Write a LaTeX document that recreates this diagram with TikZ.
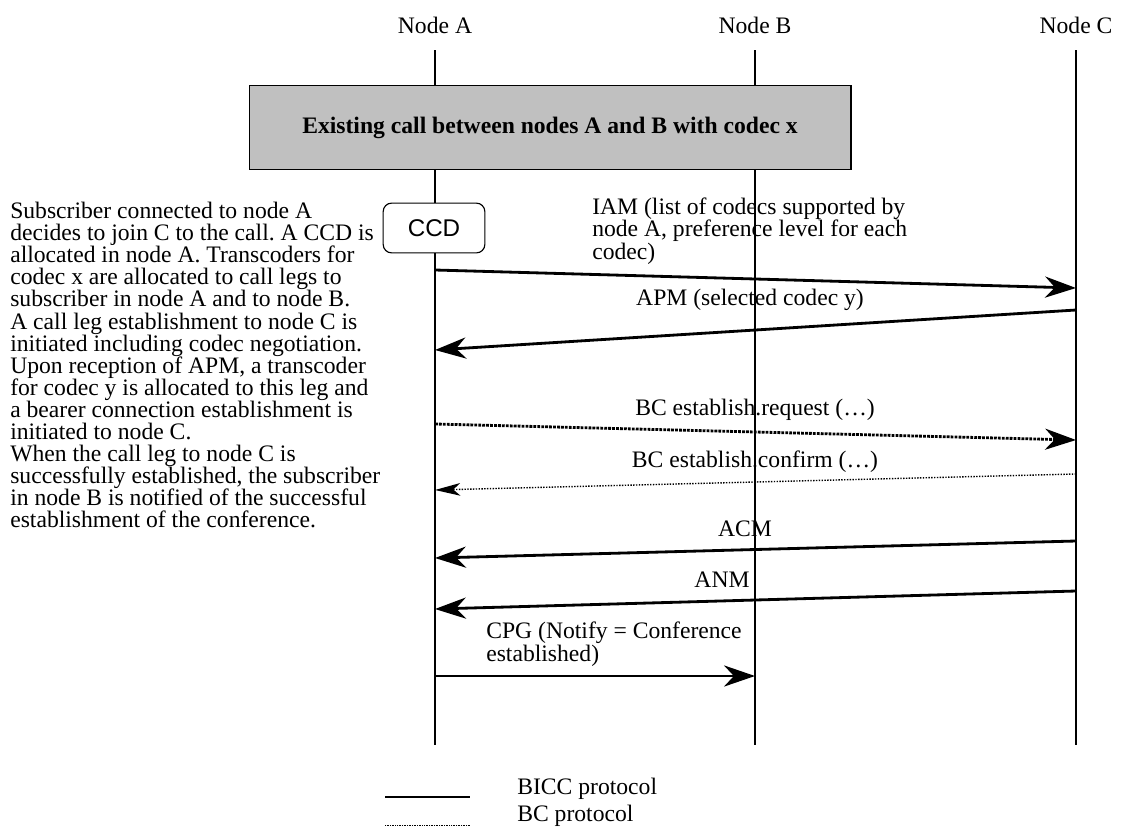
\documentclass[tikz,border=0pt]{standalone}
\usepackage{fontspec}
\setmainfont{Liberation Serif}
\newfontfamily\arialfont{Liberation Sans}
\usetikzlibrary{arrows.meta}
\definecolor{boxgrey}{HTML}{C0C0C0}
\frenchspacing
\tikzset{
  txt/.style={font=\fontsize{16.8}{15.7}\selectfont, inner sep=0pt},
  lifeline/.style={line width=0.8pt},
  bicc/.style={line width=2pt, -{Stealth[length=22pt, width=15pt, inset=7pt]}},
  bcreq/.style={line width=2pt, dash pattern=on 2pt off 0.8pt, -{Stealth[length=22pt, width=15pt, inset=7pt]}},
  bcconf/.style={line width=1pt, dash pattern=on 1pt off 1pt, -{Stealth[length=18pt, width=9pt, inset=5pt]}}
}
\begin{document}
\begin{tikzpicture}[x=0.025cm, y=-0.025cm]
        \useasboundingbox (0,0) rectangle (1123,829);
        % node headings and lifelines
        \node[txt] (nA) at (435,25)  {Node A};
        \node[txt] (nB) at (755,25)  {Node B};
        \node[txt] (nC) at (1076,25) {Node C};
        \coordinate (Aend) at (435,745);
        \coordinate (Bend) at (755,745);
        \coordinate (Cend) at (1076,745);
        \draw[lifeline] (435,50)  -- (Aend);
        \draw[lifeline] (755,50)  -- (Bend);
        \draw[lifeline] (1076,50) -- (Cend);

        % existing call box
        \node[txt, draw, line width=0.8pt, fill=boxgrey, minimum width=428pt, minimum height=60.3pt, font=\fontsize{16.8}{15.7}\selectfont\bfseries] (existing) at (550,127.5) {Existing call between nodes A and B with codec x};
        \node[draw, line width=0.8pt, fill=white, rounded corners=6pt, minimum width=72.3pt, minimum height=35.4pt, inner sep=0pt, font=\arialfont\fontsize{17.2}{15.7}\selectfont] (ccd) at (434,228) {CCD};

        % description on the left
        \node[txt, anchor=north west, align=left] (desc) at (10,202) {Subscriber connected to node A\\
decides to join C to the call. A CCD is\\
allocated in node A. Transcoders for\\
codec x are allocated to call legs to\\
subscriber in node A and to node B.\\
A call leg establishment to node C is\\
initiated including codec negotiation.\\
Upon reception of APM, a transcoder\\
for codec y is allocated to this leg and\\
a bearer connection establishment is\\
initiated to node C.\\
When the call leg to node C is\\
successfully established, the subscriber\\
in node B is notified of the successful\\
establishment of the conference.};

        % message end points
        \coordinate (iamS) at (435,270);  \coordinate (iamE) at (1076,288);
        \coordinate (apmS) at (1076,310); \coordinate (apmE) at (435,350);
        \coordinate (reqS) at (435,424);  \coordinate (reqE) at (1076,440);
        \coordinate (cnfS) at (1076,474); \coordinate (cnfE) at (435,490);
        \coordinate (acmS) at (1076,541); \coordinate (acmE) at (435,558);
        \coordinate (anmS) at (1076,591); \coordinate (anmE) at (435,609);
        \coordinate (cpgS) at (435,676);  \coordinate (cpgE) at (755,676);

        % messages
        \draw[bicc]   (iamS) -- (iamE);
        \draw[bicc]   (apmS) -- (apmE);
        \draw[bcreq]  (reqS) -- (reqE);
        \draw[bcconf] (cnfS) -- (cnfE);
        \draw[bicc]   (acmS) -- (acmE);
        \draw[bicc]   (anmS) -- (anmE);
        \draw[bicc]   (cpgS) -- (cpgE);

        % message labels
        \node[txt, anchor=north west, align=left] (iamL) at (592,198) {IAM (list of codecs supported by\\node A, preference level for each\\codec)};
        \node[txt] (apmL) at (750,300) {APM (selected codec y)};
        \node[txt] (reqL) at (755,410) {BC establish.request (\dots)};
        \node[txt] (cnfL) at (755,462) {BC establish.confirm (\dots)};
        \node[txt] (acmL) at (745,529) {ACM};
        \node[txt] (anmL) at (722,580) {ANM};
        \node[txt, anchor=north west, align=left] (cpgL) at (486,622) {CPG (Notify = Conference\\established)};

        % legend
        \coordinate (lg1a) at (385,797); \coordinate (lg1b) at (470,797);
        \coordinate (lg2a) at (385,825); \coordinate (lg2b) at (470,825);
        \draw[line width=2pt] (lg1a) -- (lg1b);
        \draw[line width=0.6pt, dash pattern=on 0.6pt off 0.6pt] (lg2a) -- (lg2b);
        \node[txt, anchor=west] (biccL) at (517,789) {BICC protocol};
        \node[txt, anchor=west] (bcL)   at (517,816) {BC protocol};
    \end{tikzpicture}
\end{document}
